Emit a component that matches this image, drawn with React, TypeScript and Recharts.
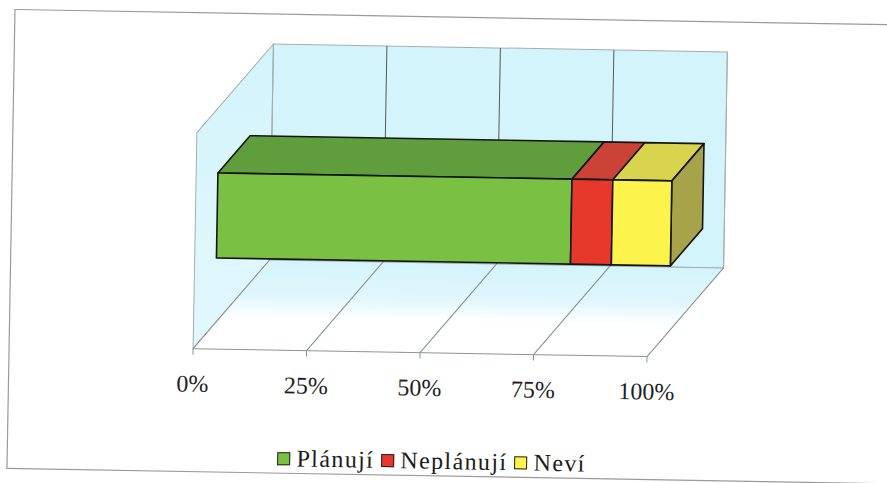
import React from "react";
import { BarChart, Bar, XAxis, YAxis, CartesianGrid, Legend } from "recharts";

// survey answers, one stacked 3D bar (percent)
const CATEGORIES = ["Respondenti"];
const SERIES = ["Plánují", "Neplánují", "Neví"];
const VALUES = [78, 9, 13];
const TICKS = [0, 25, 50, 75, 100];

const W = 887;
const H = 483;
const AXIS_H = 30;
const MARGIN = { top: 137, right: 238, bottom: 130 - AXIS_H, left: 195 };
// front plane of the 3D box, same numbers as the margins above
const PLOT = { left: 195, right: W - 238, top: 137, bottom: H - 130 };
// oblique depth vector and where the bar sits inside the depth
const DX = 75;
const DY = -90;
const NEAR = 0.29;
const FAR = 0.71;

const FONT = '"Liberation Serif", "Times New Roman", serif';
const FRONT = ["#7ac143", "#e6392b", "#fcf44c"];
const TOP = ["#5f9d3d", "#cb4236", "#d8d44e"];
const SIDE = "#a7a34b";
const CYAN = "#d3f4fb";
const WALL_EDGE = "#a3aeb2";

const data = CATEGORIES.map((name) => {
  const row: Record<string, string | number> = { name };
  SERIES.forEach((s, i) => (row[s] = VALUES[i]));
  return row;
});

/** vertical grid line -> back-wall line + floor diagonal */
function gridLine(p: any) {
  const x1 = Number(p.x1);
  const y1 = Number(p.y1);
  const y2 = Number(p.y2);
  const edge = Math.abs(x1 - PLOT.left) < 1 || Math.abs(x1 - PLOT.right) < 1;
  return (
    <g key={p.key ?? `g-${x1}`}>
      <line
        x1={x1 + DX} y1={y1 + DY} x2={x1 + DX} y2={y2 + DY}
        stroke={edge ? WALL_EDGE : "#55595b"} strokeWidth={1}
      />
      <line x1={x1} y1={y2} x2={x1 + DX} y2={y2 + DY} stroke="#858d90" strokeWidth={1} />
    </g>
  );
}

function Box3D(props: any) {
  const { x, y, width, height, idx } = props;
  if (!width || !height) return null;
  const X = x + DX * NEAR;
  const Y = y + DY * NEAR;
  const bx = DX * (FAR - NEAR);
  const by = DY * (FAR - NEAR);
  const last = idx === SERIES.length - 1;
  const st = { stroke: "#151515", strokeWidth: 1.6, strokeLinejoin: "round" as const };
  return (
    <g>
      <polygon
        points={`${X},${Y} ${X + width},${Y} ${X + width + bx},${Y + by} ${X + bx},${Y + by}`}
        fill={TOP[idx]} {...st}
      />
      {last && (
        <polygon
          points={`${X + width},${Y} ${X + width + bx},${Y + by} ${X + width + bx},${Y + height + by} ${X + width},${Y + height}`}
          fill={SIDE} {...st}
        />
      )}
      <rect x={X} y={Y} width={width} height={height} fill={FRONT[idx]} {...st} />
    </g>
  );
}

const renderLegend = () => (
  <div
    style={{
      display: "flex", justifyContent: "center", alignItems: "center",
      height: 30, fontFamily: FONT, fontSize: 24, color: "#1a1a1a",
    }}
  >
    {SERIES.map((s, i) => (
      <span key={s} style={{ display: "flex", alignItems: "center", marginRight: i < SERIES.length - 1 ? 7 : 0 }}>
        <span
          style={{
            width: 11, height: 11, background: FRONT[i],
            border: "1px solid #222", marginRight: 6, display: "inline-block",
          }}
        />
        <span style={{ letterSpacing: 1.4 }}>{s}</span>
      </span>
    ))}
  </div>
);

export default function App() {
  const { left: L, right: R, top: T, bottom: B } = PLOT;
  return (
    <div
      style={{
        position: "fixed", left: 0, top: 0, width: W, height: H,
        overflow: "hidden", background: "#fff",
      }}
    >
      <div
        style={{
          position: "relative", width: W, height: H,
          transform: "rotate(1deg)", transformOrigin: "50% 50%",
        }}
      >
        {/* walls, floor and outer frame */}
        <svg width={W} height={H} style={{ position: "absolute", left: 0, top: 0 }}>
          <defs>
            <linearGradient id="floorGrad" x1="0" y1="0" x2="0" y2="1">
              <stop offset="0" stopColor={CYAN} />
              <stop offset="0.4" stopColor="#e0f7fc" />
              <stop offset="0.65" stopColor="#ffffff" />
            </linearGradient>
            <linearGradient id="sideGrad" x1="0" y1="0" x2="0" y2="1">
              <stop offset="0" stopColor={CYAN} />
              <stop offset="1" stopColor="#e2f8fd" />
            </linearGradient>
          </defs>
          <rect x={11} y={17} width={920} height={459} fill="none" stroke="#9a9a9a" strokeWidth={1.2} />
          <polygon
            points={`${L + DX},${T + DY} ${R + DX},${T + DY} ${R + DX},${B + DY} ${L + DX},${B + DY}`}
            fill={CYAN} stroke={WALL_EDGE}
          />
          <polygon
            points={`${L},${T} ${L + DX},${T + DY} ${L + DX},${B + DY} ${L},${B}`}
            fill="url(#sideGrad)" stroke={WALL_EDGE}
          />
          <polygon
            points={`${L},${B} ${R},${B} ${R + DX},${B + DY} ${L + DX},${B + DY}`}
            fill="url(#floorGrad)" stroke="none"
          />
          <line x1={L + DX} y1={B + DY} x2={R + DX} y2={B + DY} stroke={WALL_EDGE} />
        </svg>

        <div style={{ position: "absolute", left: 0, top: 0 }}>
          <BarChart
            width={W}
            height={H}
            data={data}
            layout="vertical"
            margin={MARGIN}
            barSize={85}
          >
            <CartesianGrid horizontal={false} vertical={gridLine} />
            <XAxis
              type="number"
              domain={[0, 100]}
              ticks={TICKS}
              interval={0}
              tickFormatter={(v: number) => `${v}%`}
              height={AXIS_H}
              tickSize={6}
              tickMargin={20}
              axisLine={{ stroke: "#8c9497" }}
              tickLine={{ stroke: "#8c9497" }}
              tick={{ fontFamily: FONT, fontSize: 24, fill: "#1e1e1e" }}
            />
            <YAxis type="category" dataKey="name" hide />
            {SERIES.map((s, i) => (
              <Bar
                key={s}
                dataKey={s}
                stackId="a"
                fill={FRONT[i]}
                isAnimationActive={false}
                shape={(p: any) => <Box3D {...p} idx={i} />}
              />
            ))}
            <Legend
              verticalAlign="middle"
              layout="horizontal"
              content={renderLegend}
              wrapperStyle={{ left: -8, top: 446, width: W, height: 30 }}
            />
          </BarChart>
        </div>
      </div>
    </div>
  );
}
